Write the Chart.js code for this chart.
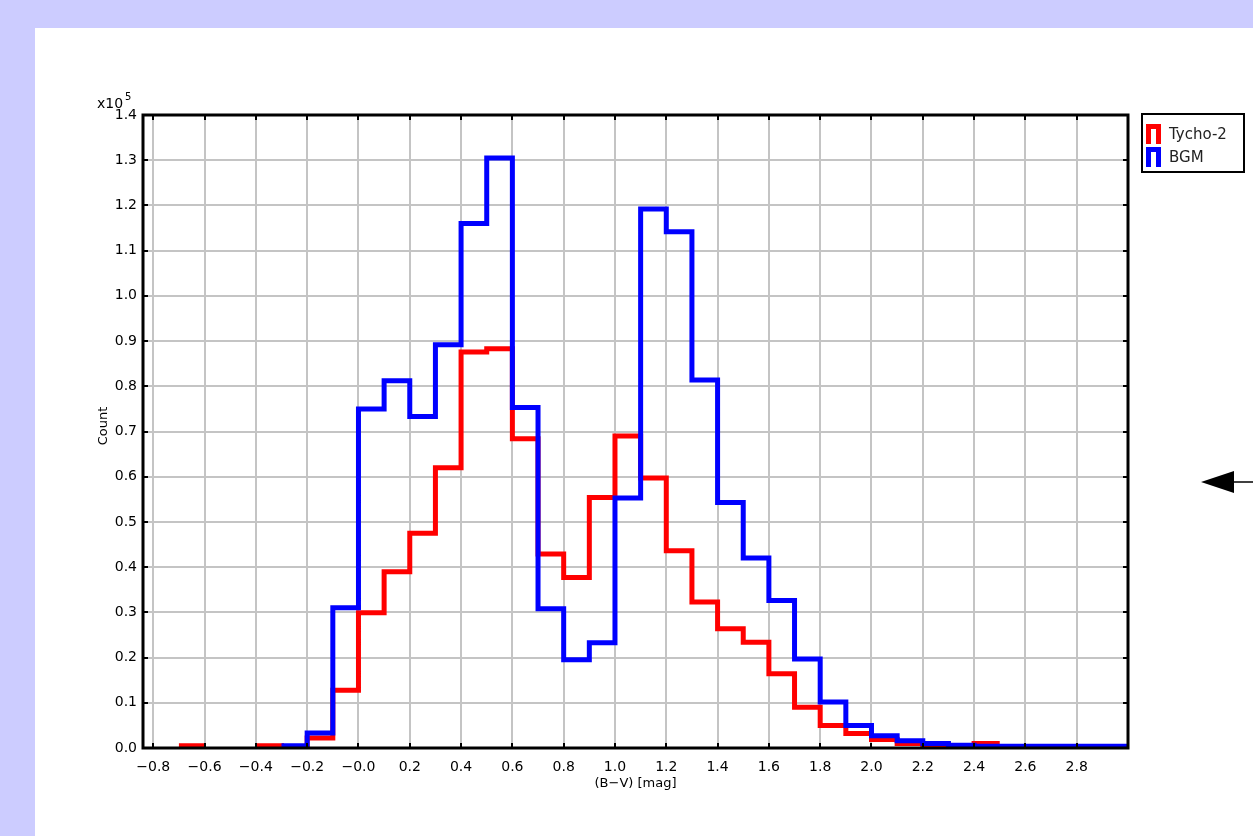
<!DOCTYPE html>
<html>
<head>
<meta charset="utf-8">
<script src="https://cdn.jsdelivr.net/npm/chart.js@4.4.1/dist/chart.umd.min.js"></script>
<style>
    html, body { margin: 0; padding: 0; background: #ccccff; width: 1253px; height: 836px; overflow: hidden; }
    #panel { position: absolute; left: 35px; top: 28px; width: 1218px; height: 808px; background: #ffffff; }
    #chart { display: block; }
</style>
</head>
<body>
<div id="panel"><canvas id="chart" width="1218" height="808"></canvas></div>
<script>
// bins are 0.1 mag wide, listed by their left edge
const BIN_WIDTH = 0.1;
const binStarts = [
    -0.7, -0.6, -0.5, -0.4, -0.3, -0.2, -0.1,
    0.0, 0.1, 0.2, 0.3, 0.4, 0.5, 0.6, 0.7, 0.8, 0.9,
    1.0, 1.1, 1.2, 1.3, 1.4, 1.5, 1.6, 1.7, 1.8, 1.9,
    2.0, 2.1, 2.2, 2.3, 2.4, 2.5, 2.6, 2.7, 2.8, 2.9
];

const tychoCounts = [
    500, null, null, 500, 300, 2200, 12800,
    29900, 39000, 47500, 62000, 87600, 88300, 68400, 42900, 37700, 55400,
    69000, 59700, 43600, 32300, 26400, 23400, 16400, 9000, 5000, 3200,
    1900, 1000, 600, 400, 1000, null, null, null, null, null
];

const bgmCounts = [
    null, null, null, null, 500, 3300, 31000,
    75000, 81200, 73300, 89200, 116000, 130500, 75300, 30800, 19500, 23300,
    55300, 119200, 114200, 81400, 54300, 42000, 32600, 19700, 10200, 5000,
    2700, 1600, 1000, 600, 400, 400, 400, 400, 400, 400
];

const xTickLabels = ['−0.8', '−0.6', '−0.4', '−0.2', '−0.0', '0.2', '0.4', '0.6', '0.8', '1.0',
    '1.2', '1.4', '1.6', '1.8', '2.0', '2.2', '2.4', '2.6', '2.8'];
const yTickLabels = ['0.0', '0.1', '0.2', '0.3', '0.4', '0.5', '0.6', '0.7',
    '0.8', '0.9', '1.0', '1.1', '1.2', '1.3', '1.4'];
const Y_EXPONENT = 5;

const X_MIN = -0.84;
const X_MAX = 3.0;

const seriesLabels = ['Tycho-2', 'BGM'];
const seriesColors = ['#ff0000', '#0000ff'];

const FONT = '"DejaVu Sans", Verdana, sans-serif';

const xTickValues = xTickLabels.map((s) => parseFloat(s.replace('−', '-')));
const yTickValues = yTickLabels.map((s) => parseFloat(s) * Math.pow(10, Y_EXPONENT));

function stepPoints(values) {
    const pts = [];
    values.forEach((v, i) => {
        const lo = binStarts[i];
        if (v === null) {
            pts.push({ x: lo, y: null });
            return;
        }
        pts.push({ x: lo, y: v }, { x: lo + BIN_WIDTH, y: v });
    });
    return pts;
}

const decorPlugin = {
    id: 'decor',
    afterDraw(chart) {
        const ctx = chart.ctx;
        const area = chart.chartArea;
        const xs = chart.scales.x;
        const ys = chart.scales.y;
        ctx.save();

        // inward tick marks on all four sides
        ctx.strokeStyle = '#000';
        ctx.lineWidth = 2;
        ctx.beginPath();
        xTickValues.forEach((v) => {
            const px = Math.round(xs.getPixelForValue(v));
            ctx.moveTo(px, area.bottom);
            ctx.lineTo(px, area.bottom - 5);
            ctx.moveTo(px, area.top);
            ctx.lineTo(px, area.top + 5);
        });
        yTickValues.forEach((v) => {
            const py = Math.round(ys.getPixelForValue(v));
            ctx.moveTo(area.left, py);
            ctx.lineTo(area.left + 5, py);
            ctx.moveTo(area.right, py);
            ctx.lineTo(area.right - 5, py);
        });
        ctx.stroke();

        // frame
        ctx.lineWidth = 3;
        ctx.strokeRect(area.left, area.top, area.right - area.left, area.bottom - area.top);

        // axis titles
        ctx.fillStyle = '#000';
        ctx.font = '13px ' + FONT;
        ctx.textAlign = 'center';
        ctx.textBaseline = 'middle';
        ctx.fillText('(B−V) [mag]', (area.left + area.right) / 2, 756);
        ctx.save();
        ctx.translate(69, 398);
        ctx.rotate(-Math.PI / 2);
        ctx.fillText('Count', 0, 0);
        ctx.restore();

        // exponent
        ctx.textAlign = 'left';
        ctx.textBaseline = 'alphabetic';
        ctx.font = '14px ' + FONT;
        ctx.fillText('x10', 62, 80);
        ctx.font = '10px ' + FONT;
        ctx.fillText(String(Y_EXPONENT), 90, 72);

        // legend
        const box = { x: 1107, y: 86, w: 102, h: 58 };
        ctx.lineWidth = 2;
        ctx.strokeStyle = '#000';
        ctx.strokeRect(box.x, box.y, box.w, box.h);
        ctx.font = '15px ' + FONT;
        ctx.textBaseline = 'middle';
        seriesLabels.forEach((label, i) => {
            const top = box.y + 10 + i * 23;
            ctx.strokeStyle = seriesColors[i];
            ctx.lineWidth = 5;
            ctx.lineJoin = 'miter';
            ctx.beginPath();
            ctx.moveTo(box.x + 6.5, top + 20);
            ctx.lineTo(box.x + 6.5, top + 2.5);
            ctx.lineTo(box.x + 16.5, top + 2.5);
            ctx.lineTo(box.x + 16.5, top + 20);
            ctx.stroke();
            ctx.fillStyle = '#222';
            ctx.fillText(label, box.x + 27, top + 11);
        });

        // arrow on the right
        ctx.fillStyle = '#000';
        ctx.beginPath();
        ctx.moveTo(1166, 454);
        ctx.lineTo(1199, 443);
        ctx.lineTo(1199, 465);
        ctx.closePath();
        ctx.fill();
        ctx.strokeStyle = '#000';
        ctx.lineWidth = 1.5;
        ctx.beginPath();
        ctx.moveTo(1199, 454);
        ctx.lineTo(1218, 454);
        ctx.stroke();

        ctx.restore();
    }
};

new Chart(document.getElementById('chart'), {
    type: 'line',
    data: {
        datasets: [
            {
                label: seriesLabels[0],
                data: stepPoints(tychoCounts),
                borderColor: seriesColors[0],
                borderWidth: 5,
                borderJoinStyle: 'miter',
                borderCapStyle: 'butt',
                pointRadius: 0,
                tension: 0,
                fill: false,
                spanGaps: false,
                order: 1
            },
            {
                label: seriesLabels[1],
                data: stepPoints(bgmCounts),
                borderColor: seriesColors[1],
                borderWidth: 5,
                borderJoinStyle: 'miter',
                borderCapStyle: 'butt',
                pointRadius: 0,
                tension: 0,
                fill: false,
                spanGaps: false,
                order: 0
            }
        ]
    },
    options: {
        responsive: false,
        animation: false,
        events: [],
        layout: { padding: { top: 87, right: 125, bottom: 28, left: 48 } },
        plugins: {
            legend: { display: false },
            tooltip: { enabled: false }
        },
        scales: {
            x: {
                type: 'linear',
                min: X_MIN,
                max: X_MAX,
                afterBuildTicks: (scale) => { scale.ticks = xTickValues.map((v) => ({ value: v })); },
                afterFit: (scale) => { scale.height = 60; },
                grid: { color: '#c4c4c4', lineWidth: 2, drawTicks: false },
                border: { display: false },
                ticks: {
                    autoSkip: false,
                    maxRotation: 0,
                    padding: 11,
                    color: '#000',
                    font: { family: FONT, size: 14 },
                    callback: (value, index) => xTickLabels[index]
                }
            },
            y: {
                type: 'linear',
                min: 0,
                max: yTickValues[yTickValues.length - 1],
                afterBuildTicks: (scale) => { scale.ticks = yTickValues.map((v) => ({ value: v })); },
                afterFit: (scale) => { scale.width = 60; },
                grid: { color: '#c4c4c4', lineWidth: 2, drawTicks: false },
                border: { display: false },
                ticks: {
                    autoSkip: false,
                    padding: 6,
                    color: '#000',
                    font: { family: FONT, size: 14 },
                    callback: (value, index) => yTickLabels[index]
                }
            }
        }
    },
    plugins: [decorPlugin]
});
</script>
</body>
</html>
